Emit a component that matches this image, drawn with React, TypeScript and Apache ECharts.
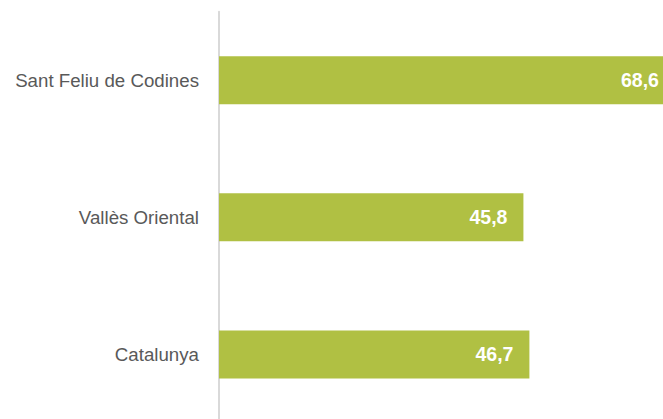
import React, { useEffect, useRef } from "react";
import * as echarts from "echarts";

const categories = ["Sant Feliu de Codines", "Vallès Oriental", "Catalunya"];
const values = [68.6, 45.8, 46.7];

export default function App() {
  const ref = useRef<HTMLDivElement>(null);
  useEffect(() => {
    if (!ref.current) return;
    const chart = echarts.init(ref.current, undefined, { renderer: "svg" });
    chart.setOption({
      animation: false,
      backgroundColor: "#ffffff",
      grid: { left: 219, right: 0, top: 11.7, bottom: 0, containLabel: false },
      xAxis: {
        type: "value",
        min: 0,
        max: 66.8,
        show: false,
      },
      yAxis: {
        type: "category",
        data: categories,
        inverse: true,
        axisLine: { show: true, lineStyle: { color: "#d9d9d9", width: 2 } },
        axisTick: { show: false },
        axisLabel: {
          color: "#595959",
          fontSize: 18.7,
          fontFamily: "Liberation Sans",
          margin: 20,
        },
        splitLine: { show: false },
      },
      series: [
        {
          type: "bar",
          data: values,
          barWidth: 48,
          clip: false,
          itemStyle: { color: "#b0c043" },
          label: {
            show: true,
            position: "insideRight",
            distance: 16,
            color: "#ffffff",
            fontWeight: "bold",
            fontSize: 19.5,
            fontFamily: "Liberation Sans",
            formatter: (p: any) => String(p.value).replace(".", ","),
          },
        },
      ],
    });
    return () => chart.dispose();
  }, []);
  return (
    <div
      ref={ref}
      style={{ position: "fixed", left: 0, top: 0, width: 663, height: 423 }}
    />
  );
}
